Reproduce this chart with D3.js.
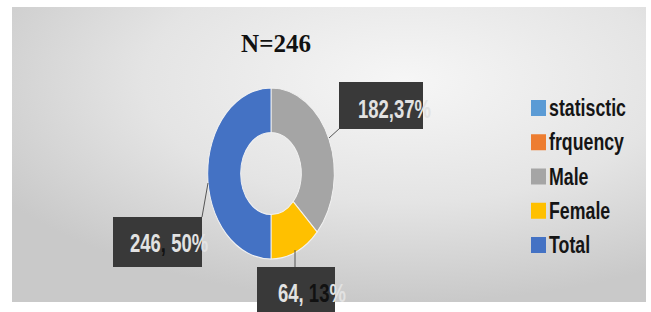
<!DOCTYPE html>
<html>
<head>
<meta charset="utf-8">
<script src="https://cdn.jsdelivr.net/npm/d3@7"></script>
<style>
  body { margin: 0; background: #fff; }
  svg { display: block; }
</style>
</head>
<body>
<div id="chart"></div>
<script>
// chart data
let categories = ["statisctic", "frquency", "Male", "Female", "Total"];
let values = [0, 0, 182, 64, 246];
let colors = ["#5b9bd5", "#ed7d31", "#a5a5a5", "#ffc000", "#4472c4"];
let title = "N=246";
let labels = ["", "", "182,37%", "64, 13%", "246, 50%"];

let width = 651, height = 312;
let squish = 0.74; // picture is squeezed horizontally

let svg = d3.select("#chart").append("svg")
  .attr("width", width)
  .attr("height", height);

let defs = svg.append("defs");
let grad = defs.append("radialGradient")
  .attr("id", "bg")
  .attr("cx", "62%").attr("cy", "25%").attr("r", "75%");
grad.append("stop").attr("offset", "0%").attr("stop-color", "#f6f6f6");
grad.append("stop").attr("offset", "55%").attr("stop-color", "#e4e4e4");
grad.append("stop").attr("offset", "100%").attr("stop-color", "#c9c9c9");

svg.append("rect")
  .attr("x", 12).attr("y", 7)
  .attr("width", 634).attr("height", 295)
  .attr("fill", "url(#bg)");

// title
svg.append("text")
  .attr("x", 276).attr("y", 52)
  .attr("text-anchor", "middle")
  .style("font-family", "'Liberation Serif', 'Times New Roman', serif")
  .style("font-weight", "bold")
  .style("font-size", "25px")
  .attr("fill", "#111")
  .text(title);

// donut
let cx = 271, cy = 173.5;
let outerR = 85.5, innerR = 41;

let pie = d3.pie().sort(null).value(d => d);
let arc = d3.arc().innerRadius(innerR).outerRadius(outerR);

let donut = svg.append("g")
  .attr("transform", "translate(" + [cx, cy] + ") scale(" + squish + ",1)");

donut.selectAll("path")
  .data(pie(values))
  .enter().append("path")
  .filter(d => d.value > 0)
  .attr("d", arc)
  .attr("fill", (d, i) => colors[d.index])
  .attr("stroke", "#f2f2f2")
  .attr("stroke-width", 1.2);

// data label boxes (layout only)
let boxLayout = {
  2: {box: [339, 82, 84, 47], tx: 358, ty: 118, line: [[329, 138], [340, 128]]},
  3: {box: [257, 267, 78, 50], tx: 278, ty: 302, line: [[295, 250], [295, 267]]},
  4: {box: [113, 217, 89, 50], tx: 130, ty: 252, line: [[202, 217], [208, 183]]}
};
// parts of the label text that show up dark in the picture
let darkRanges = {3: [4, 6], 4: [3, 4]};

let labelG = svg.append("g");
Object.keys(boxLayout).forEach(k => {
  let L = boxLayout[k];
  labelG.append("line")
    .attr("x1", L.line[0][0]).attr("y1", L.line[0][1])
    .attr("x2", L.line[1][0]).attr("y2", L.line[1][1])
    .attr("stroke", "#555").attr("stroke-width", 1);
  labelG.append("rect")
    .attr("x", L.box[0]).attr("y", L.box[1])
    .attr("width", L.box[2]).attr("height", L.box[3])
    .attr("fill", "#393939");

  let txt = labels[k];
  let t = labelG.append("text")
    .attr("transform", "translate(" + [L.tx, L.ty] + ") scale(" + squish + ",1)")
    .style("font-family", "'Liberation Sans', Arial, sans-serif")
    .style("font-weight", "bold")
    .style("font-size", "25px")
    .attr("fill", "#e2e2e2");
  let dr = darkRanges[k];
  if (dr) {
    t.append("tspan").text(txt.slice(0, dr[0]));
    t.append("tspan").attr("fill", "#111").text(txt.slice(dr[0], dr[1]));
    t.append("tspan").text(txt.slice(dr[1]));
  } else {
    t.text(txt);
  }
});

// legend
let legendY = d3.scalePoint()
  .domain(categories)
  .range([108, 245]);

let legend = svg.append("g");
let item = legend.selectAll("g")
  .data(categories)
  .enter().append("g")
  .attr("transform", d => "translate(531," + legendY(d) + ")");

item.append("rect")
  .attr("x", 0).attr("y", -8)
  .attr("width", 15).attr("height", 16)
  .attr("fill", (d, i) => colors[i]);

item.append("text")
  .attr("transform", "translate(18,8) scale(" + squish + ",1)")
  .style("font-family", "'Liberation Sans', Arial, sans-serif")
  .style("font-weight", "bold")
  .style("font-size", "24px")
  .attr("fill", "#151515")
  .text(d => d);
</script>
</body>
</html>
